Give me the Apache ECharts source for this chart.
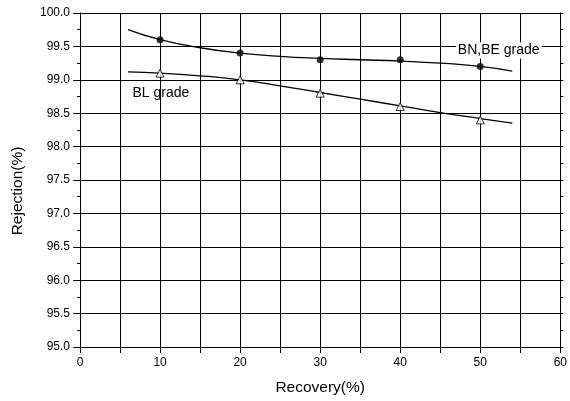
<!DOCTYPE html>
<html>
<head>
<meta charset="utf-8">
<script src="https://cdn.jsdelivr.net/npm/echarts@6/dist/echarts.min.js"></script>
<style>html,body{margin:0;padding:0;background:#fff}#c{width:570px;height:401px}</style>
</head>
<body>
<div id="c"></div>
<script>
// Measured points
var recovery = [10, 20, 30, 40, 50];
var bnbeRejection = [99.6, 99.4, 99.3, 99.3, 99.2];
var blRejection = [99.1, 99.0, 98.8, 98.6, 98.4];
// Fitted curves
var fitX = [6, 10, 15, 20, 25, 30, 35, 40, 45, 50, 54];
var bnbeFit = [99.75, 99.60, 99.48, 99.40, 99.35, 99.32, 99.30, 99.28, 99.25, 99.20, 99.13];
var blFit = [99.12, 99.10, 99.06, 99.00, 98.91, 98.81, 98.71, 98.61, 98.51, 98.42, 98.35];
// Axis tick labels
var xTickLabels = [0, 10, 20, 30, 40, 50, 60];
var yTickLabels = ['95.0','95.5','96.0','96.5','97.0','97.5','98.0','98.5','99.0','99.5','100.0'];
var seriesNames = ['BN,BE grade', 'BL grade'];

function pairs(xs, ys) { return xs.map(function (x, i) { return [x, ys[i]]; }); }

var font = 'Liberation Sans, Arial, sans-serif';
var chart = echarts.init(document.getElementById('c'));
chart.setOption({
  animation: false,
  backgroundColor: '#fff',
  grid: { left: 80, right: 7, top: 13, bottom: 51 },
  xAxis: [{
    type: 'value', min: 0, max: 60, interval: 5, position: 'bottom',
    name: 'Recovery(%)', nameLocation: 'middle', nameGap: 33,
    nameTextStyle: { color: '#000', fontSize: 15.5, fontFamily: font },
    axisLine: { show: true, onZero: false, lineStyle: { color: '#000', width: 1 } },
    axisTick: { show: true, length: 6, lineStyle: { color: '#000' } },
    axisLabel: { color: '#000', fontSize: 12, fontFamily: font, margin: 10,
      formatter: function (v) { return xTickLabels.indexOf(v) >= 0 ? String(v) : ''; } },
    splitLine: { show: true, lineStyle: { color: '#000', width: 1 } }
  }, {
    type: 'value', min: 0, max: 60, interval: 5, position: 'top',
    axisLine: { show: true, onZero: false, lineStyle: { color: '#000', width: 1 } },
    axisTick: { show: false }, axisLabel: { show: false }, splitLine: { show: false }
  }],
  yAxis: [{
    type: 'value', min: 95, max: 100, interval: 0.5, position: 'left',
    name: 'Rejection(%)', nameLocation: 'middle', nameGap: 54,
    nameTextStyle: { color: '#000', fontSize: 15.5, fontFamily: font, padding: [0, 22, 0, 0] },
    axisLine: { show: true, onZero: false, lineStyle: { color: '#000', width: 1 } },
    axisTick: { show: true, length: 7, lineStyle: { color: '#000' } },
    minorTick: { show: true, splitNumber: 2, length: 3, lineStyle: { color: '#000' } },
    axisLabel: { color: '#000', fontSize: 12, fontFamily: font, margin: 10,
      formatter: function (v) { return yTickLabels[Math.round((v - 95) / 0.5)]; } },
    splitLine: { show: true, lineStyle: { color: '#000', width: 1 } }
  }, {
    type: 'value', min: 95, max: 100, interval: 0.5, position: 'right',
    axisLine: { show: true, onZero: false, lineStyle: { color: '#000', width: 1 } },
    axisTick: { show: true, length: 3, lineStyle: { color: '#000' } },
    minorTick: { show: true, splitNumber: 2, length: 3, lineStyle: { color: '#000' } },
    axisLabel: { show: false }, splitLine: { show: false }
  }],
  series: [{
    name: seriesNames[0] + ' fit', type: 'line', smooth: true, showSymbol: false,
    data: pairs(fitX, bnbeFit), lineStyle: { color: '#000', width: 1.3 }, z: 3,
    markPoint: {
      symbol: 'rect', symbolSize: 1, itemStyle: { color: 'rgba(0,0,0,0)' },
      data: [{ coord: [52.3, 99.44], value: seriesNames[0],
        label: { show: true, position: 'inside', formatter: seriesNames[0], color: '#000',
          fontSize: 14, fontFamily: font, backgroundColor: '#fff', padding: [1, 2] } }]
    }
  }, {
    name: seriesNames[0], type: 'scatter', symbol: 'circle', symbolSize: 7,
    data: pairs(recovery, bnbeRejection), itemStyle: { color: '#000' }, z: 4
  }, {
    name: seriesNames[1] + ' fit', type: 'line', smooth: true, showSymbol: false,
    data: pairs(fitX, blFit), lineStyle: { color: '#000', width: 1.3 }, z: 3,
    markPoint: {
      symbol: 'rect', symbolSize: 1, itemStyle: { color: 'rgba(0,0,0,0)' },
      data: [{ coord: [10.1, 98.8], value: seriesNames[1],
        label: { show: true, position: 'inside', formatter: seriesNames[1], color: '#000',
          fontSize: 14, fontFamily: font } }]
    }
  }, {
    name: seriesNames[1], type: 'scatter', symbol: 'triangle', symbolSize: 8,
    data: pairs(recovery, blRejection),
    itemStyle: { color: '#fff', borderColor: '#000', borderWidth: 1 }, z: 4
  }]
});
</script>
</body>
</html>
